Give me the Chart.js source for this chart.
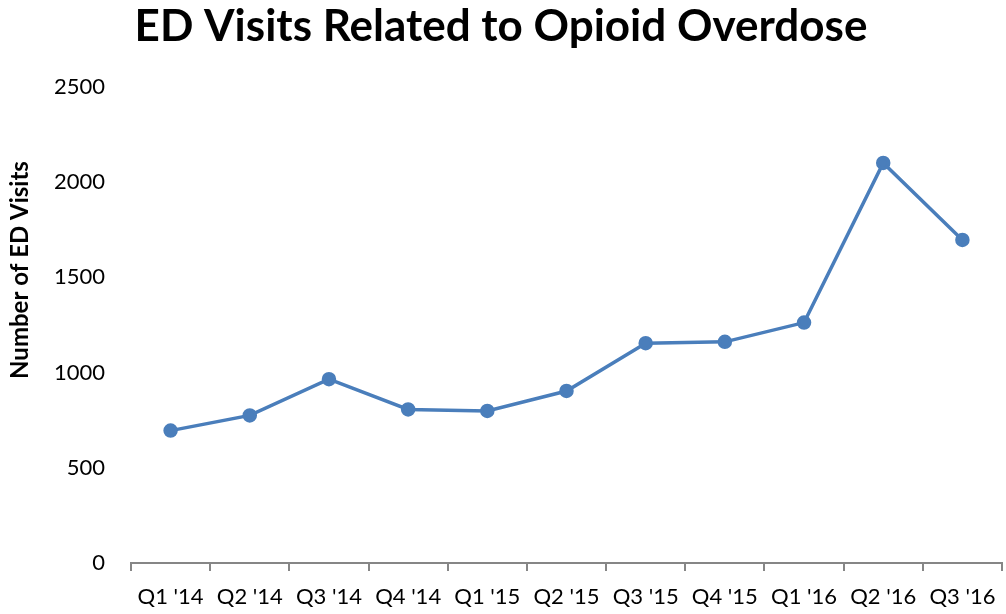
<!DOCTYPE html>
<html>
<head>
<meta charset="utf-8">
<script src="https://cdn.jsdelivr.net/npm/chart.js@4/dist/chart.umd.min.js"></script>
<style>
  html, body { margin: 0; padding: 0; background: #fff; }
  #wrap { width: 1006px; height: 614px; }
</style>
</head>
<body>
<div id="wrap"><canvas id="chart" width="1006" height="614"></canvas></div>
<script>
// trimestres do eixo X
const trimestres = ["Q1 '14", "Q2 '14", "Q3 '14", "Q4 '14", "Q1 '15", "Q2 '15", "Q3 '15", "Q4 '15", "Q1 '16", "Q2 '16", "Q3 '16"]

// visitas ao pronto-socorro
const visitas = [695, 775, 965, 806, 798, 903, 1154, 1161, 1262, 2100, 1696]

// limites do eixo Y
const yMin = 0
const yMax = 2500
const yPasso = 500

const fonte = "Lato, 'Open Sans', sans-serif"

// desenha o título do eixo Y na mesma posição do original
const tituloEixoY = {
  id: 'tituloEixoY',
  afterDraw(chart) {
    const ctx = chart.ctx
    ctx.save()
    ctx.translate(20, 270)
    ctx.rotate(-Math.PI / 2)
    ctx.font = 'bold 24px ' + fonte
    ctx.fillStyle = '#000'
    ctx.textAlign = 'center'
    ctx.textBaseline = 'middle'
    ctx.fillText('Number of ED Visits', 0, 0)
    ctx.restore()
  }
}

new Chart('chart', {
  type: 'line',
  data: {
    labels: trimestres,
    datasets: [{
      data: visitas,
      borderColor: '#4a7ebb',
      backgroundColor: '#4a7ebb',
      borderWidth: 3.5,
      pointRadius: 5.5,
      pointHoverRadius: 5.5,
      tension: 0
    }]
  },
  options: {
    responsive: false,
    animation: false,
    layout: { autoPadding: false, padding: { left: 0, right: 4, top: 0, bottom: 0 } },
    plugins: {
      legend: { display: false },
      tooltip: { enabled: false },
      title: {
        display: true,
        text: 'ED Visits Related to Opioid Overdose',
        color: '#000',
        font: { family: fonte, size: 44, weight: 'bold' },
        padding: { top: 0, bottom: 34 }
      }
    },
    scales: {
      x: {
        offset: true,
        border: { display: true, color: '#868686', width: 2 },
        grid: {
          offset: true,
          drawOnChartArea: false,
          drawTicks: true,
          tickLength: 8,
          color: '#868686',
          lineWidth: 2
        },
        ticks: {
          color: '#000',
          font: { family: fonte, size: 22 },
          padding: 13,
          maxRotation: 0,
          autoSkip: false
        },
        afterFit: s => {
          s.height = 51
          // sem folga lateral extra por causa dos rótulos
          s.paddingLeft = 0
          s.paddingRight = 0
        }
      },
      y: {
        min: yMin,
        max: yMax,
        border: { display: false },
        grid: { display: false },
        ticks: {
          stepSize: yPasso,
          color: '#000',
          font: { family: fonte, size: 22 },
          padding: 18,
          callback: v => String(v)
        },
        afterFit: s => { s.width = 131 }
      }
    }
  },
  plugins: [tituloEixoY]
})
</script>
</body>
</html>
